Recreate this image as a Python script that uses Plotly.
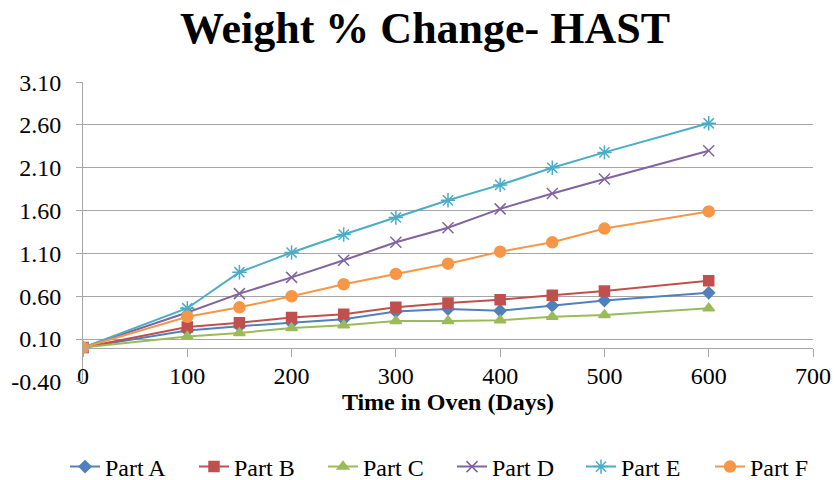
import plotly.graph_objects as go

days = [0, 100, 150, 200, 250, 300, 350, 400, 450, 500, 600]
part_a = [0.00, 0.20, 0.25, 0.29, 0.33, 0.42, 0.45, 0.43, 0.49, 0.55, 0.64]
part_b = [0.00, 0.24, 0.29, 0.35, 0.39, 0.47, 0.52, 0.56, 0.61, 0.66, 0.78]
part_c = [0.00, 0.13, 0.17, 0.23, 0.26, 0.31, 0.31, 0.32, 0.36, 0.38, 0.46]
part_d = [0.00, 0.41, 0.63, 0.82, 1.02, 1.23, 1.40, 1.62, 1.80, 1.97, 2.30]
part_e = [0.00, 0.46, 0.88, 1.11, 1.32, 1.52, 1.72, 1.90, 2.10, 2.28, 2.62]
part_f = [0.00, 0.36, 0.47, 0.60, 0.74, 0.86, 0.98, 1.12, 1.23, 1.39, 1.59]

series_names = ["Part A", "Part B", "Part C", "Part D", "Part E", "Part F"]
series_values = [part_a, part_b, part_c, part_d, part_e, part_f]
colors = ["#4F81BD", "#C0504D", "#9BBB59", "#8064A2", "#4BACC6", "#F79646"]
symbols = ["diamond", "square", "triangle-up", "x-thin-open", "asterisk-open", "circle"]
sizes = [9, 10, 10, 11, 12, 11]

y_ticks = [-0.40, 0.10, 0.60, 1.10, 1.60, 2.10, 2.60, 3.10]
x_ticks = [0, 100, 200, 300, 400, 500, 600, 700]

SERIF = "Liberation Serif, Times New Roman, serif"

W, H = 834, 480
ML, MR, MT, MB = 83, 21, 82, 98
PW, PH = W - ML - MR, H - MT - MB

fig = go.Figure()
for name, vals, col, sym, sz in zip(series_names, series_values, colors, symbols, sizes):
    fig.add_trace(go.Scatter(
        x=days, y=vals, name=name, mode="lines+markers",
        line=dict(color=col, width=2),
        marker=dict(symbol=sym, size=sz, color=col, line=dict(color=col, width=1.5)),
    ))

ymin, ymax = y_ticks[0], y_ticks[-1]
fig.update_layout(
    width=W, height=H,
    margin=dict(l=ML, r=MR, t=MT, b=MB, autoexpand=False),
    paper_bgcolor="white", plot_bgcolor="white",
    font=dict(family=SERIF, color="black", size=24),
    title=dict(text="<b>Weight % Change- HAST</b>", x=425 / W, xref="container",
               xanchor="center", y=1 - 28 / H, yref="container", yanchor="middle",
               font=dict(family=SERIF, size=44, color="black")),
    showlegend=True,
    legend=dict(orientation="h", xref="paper", x=(65 - ML) / PW, xanchor="left",
                yref="paper", y=-(467 - (H - MB)) / PH, yanchor="middle",
                font=dict(family=SERIF, size=24), itemwidth=30,
                entrywidth=84, entrywidthmode="pixels",
                tracegroupgap=0),
)
fig.update_yaxes(
    range=[ymin - 0.002, ymax + 0.002], tickvals=y_ticks,
    ticktext=[f"{v:.2f}" for v in y_ticks],
    showgrid=True, gridcolor="#A6A6A6", gridwidth=1,
    showline=True, linecolor="#A6A6A6", linewidth=1,
    ticks="outside", ticklen=6, tickcolor="#A6A6A6",
    zeroline=False, tickfont=dict(family=SERIF, size=24),
    ticklabelstandoff=10, automargin=False,
)
fig.update_xaxes(
    range=[x_ticks[0], x_ticks[-1]], tickvals=x_ticks,
    anchor="free", position=(0 - ymin) / (ymax - ymin),
    showgrid=False, zeroline=False,
    showline=True, linecolor="#A6A6A6", linewidth=1,
    ticks="outside", ticklen=8, tickcolor="#A6A6A6",
    tickfont=dict(family=SERIF, size=24), ticklabelstandoff=-2,
    title=dict(text="<b>Time in Oven (Days)</b>", font=dict(family=SERIF, size=24), standoff=4),
    automargin=False,
)

fig.write_html("out.html")
